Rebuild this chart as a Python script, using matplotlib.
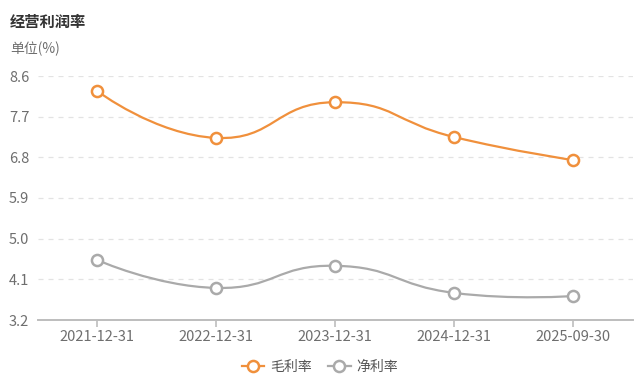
import matplotlib
matplotlib.use('Agg')
import matplotlib.pyplot as plt
from matplotlib.path import Path
from matplotlib.patches import PathPatch
from matplotlib.lines import Line2D
import numpy as np

plt.rcParams['font.family'] = ['Noto Sans CJK SC', 'DejaVu Sans']

# data
categories = ['2021-12-31', '2022-12-31', '2023-12-31', '2024-12-31', '2025-09-30']
gross_margin = [8.27, 7.23, 8.02, 7.25, 6.74]
net_margin = [4.53, 3.91, 4.40, 3.80, 3.73]
y_ticks = [3.2, 4.1, 5.0, 5.9, 6.8, 7.7, 8.6]

orange = '#f0903c'
gray = '#aaaaaa'
label_color = '#6e6e6e'

fig = plt.figure(figsize=(6.4, 3.82), dpi=100)
ax = fig.add_axes([37.5 / 640, 1 - 320 / 382, 595 / 640, 244 / 382])
ax.set_xlim(-0.5, len(categories) - 0.5)
ax.set_ylim(y_ticks[0], y_ticks[-1])


def smooth_path(xs, ys, smooth=0.5):
    # echarts-like smoothing, computed in pixel space
    pts = ax.transData.transform(np.column_stack([xs, ys]))
    n = len(pts)
    verts = [pts[0]]
    codes = [Path.MOVETO]
    cps_out = [None] * n
    cps_in = [None] * n
    for i in range(n):
        cur = pts[i]
        if i == 0 or i == n - 1:
            cps_out[i] = cur
            cps_in[i] = cur
            continue
        prev, nxt = pts[i - 1], pts[i + 1]
        v = nxt - prev
        d0 = np.hypot(*(cur - prev))
        d1 = np.hypot(*(cur - nxt))
        r = d1 / (d0 + d1)
        cps_out[i] = cur + v * smooth * r
        cps_in[i] = cur - v * smooth * (1 - r)
    for i in range(1, n):
        verts += [cps_out[i - 1], cps_in[i], pts[i]]
        codes += [Path.CURVE4] * 3
    verts = ax.transData.inverted().transform(np.array(verts))
    return Path(verts, codes)


x = np.arange(len(categories))
for vals, col in [(gross_margin, orange), (net_margin, gray)]:
    ax.add_patch(PathPatch(smooth_path(x, vals), fill=False, edgecolor=col,
                           linewidth=1.6, zorder=3))
    ax.plot(x, vals, linestyle='none', marker='o', markersize=8,
            markerfacecolor='white', markeredgecolor=col, markeredgewidth=1.8,
            zorder=4, clip_on=False)

# grid
for t in y_ticks[1:]:
    ax.axhline(t, color='#e3e3e3', linewidth=0.9, linestyle=(0, (4, 4)), zorder=1)

for s in ['top', 'right', 'left']:
    ax.spines[s].set_visible(False)
ax.spines['bottom'].set_color('#bdbdbd')
ax.spines['bottom'].set_linewidth(1.4)

ax.set_xticks(x)
ax.set_xticklabels(categories)
ax.set_yticks(y_ticks)
ax.set_yticklabels([f'{t:.1f}' for t in y_ticks])
ax.tick_params(axis='x', colors='#bdbdbd', labelcolor=label_color, labelsize=10.5,
               length=5, width=1.2, pad=2)
ax.tick_params(axis='y', length=0, labelcolor=label_color, labelsize=10.5, pad=6)

fig.text(10 / 640, 1 - 22 / 382, '经营利润率', fontsize=11, fontweight='bold',
         color='#333333', va='center', ha='left')
fig.text(10 / 640, 1 - 49 / 382, '单位(%)', fontsize=10, color=label_color,
         va='center', ha='left')

handles = [
    Line2D([], [], color=orange, linewidth=1.6, marker='o', markersize=8,
           markerfacecolor='white', markeredgecolor=orange, markeredgewidth=1.8),
    Line2D([], [], color=gray, linewidth=1.6, marker='o', markersize=8,
           markerfacecolor='white', markeredgecolor=gray, markeredgewidth=1.8),
]
fig.legend(handles, ['毛利率', '净利率'], loc='center', bbox_to_anchor=(0.5, 1 - 367 / 382),
           ncol=2, frameon=False, fontsize=10, handlelength=1.6, handletextpad=0.4,
           columnspacing=1.2, labelcolor='#555555')

fig.savefig('out.png', dpi=100)
